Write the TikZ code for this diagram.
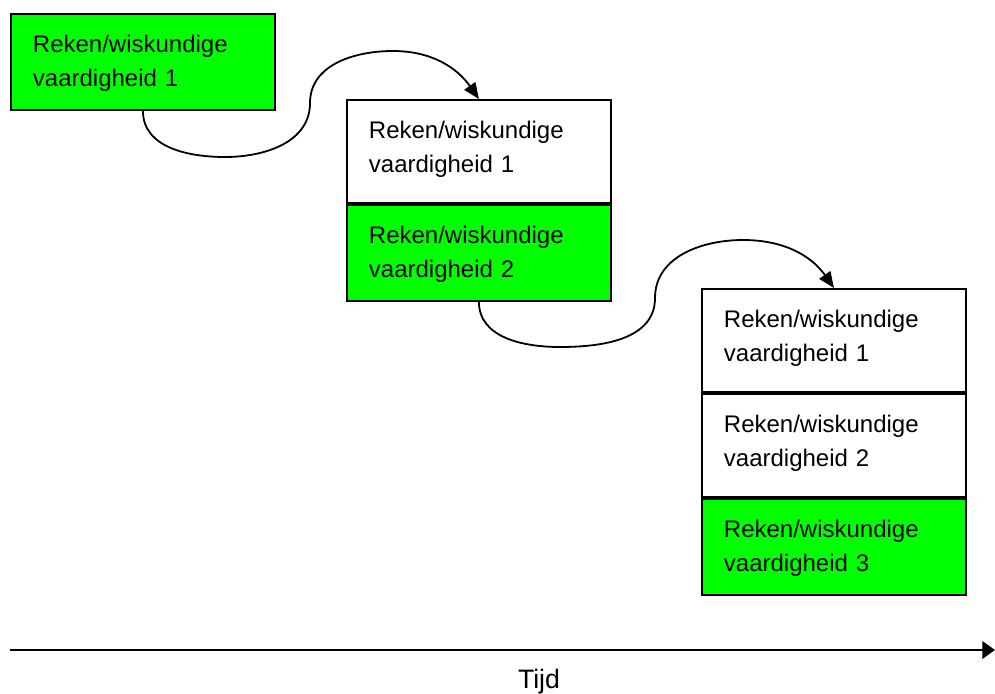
\documentclass[tikz,border=0pt]{standalone}
\usepackage{fontspec}
\setmainfont{Liberation Sans}
\usetikzlibrary{arrows.meta}
\definecolor{cellgreen}{HTML}{00FF00}
\tikzset{
  cell/.style={draw=black, line width=1.4pt, anchor=north west, inner xsep=16.5pt, inner ysep=0pt,
    text width=165pt, align=left, text height=29.25pt,
    font=\fontsize{18pt}{25.5pt}\selectfont},
  tall/.style={text depth=48pt},
  short/.style={text depth=42.75pt},
  green/.style={fill=cellgreen},
  conn/.style={line width=1.35pt, -{Triangle[length=12pt,width=10pt]}},
  axis/.style={line width=2.1pt, -{Triangle[length=9.5pt,width=13pt]}},
}
\begin{document}
\begin{tikzpicture}[x=0.75pt,y=0.75pt]
\useasboundingbox (0,0) rectangle (995,-693);
% column 1
\node[cell,short,green] (b1) at (10,-13) {Reken/wiskundige\\vaardigheid 1};
% column 2
\node[cell,tall] (b2a) at (346,-99) {Reken/wiskundige\\vaardigheid 1};
\node[cell,short,green] (b2b) at (b2a.south west) {Reken/wiskundige\\vaardigheid 2};
% column 3
\node[cell,tall] (b3a) at (701,-288) {Reken/wiskundige\\vaardigheid 1};
\node[cell,tall] (b3b) at (b3a.south west) {Reken/wiskundige\\vaardigheid 2};
\node[cell,short,green] (b3c) at (b3b.south west) {Reken/wiskundige\\vaardigheid 3};
% curved connectors
\draw[conn] (b1.south) to[out=-90,in=180] (225,-157) to[out=0,in=-90] (310,-103)
  to[out=90,in=180] (393,-51) to[out=0,in=125] (b2a.north);
\draw[conn] (b2b.south) to[out=-90,in=180] (560,-347) to[out=0,in=-90] (655,-298)
  to[out=90,in=180] (743,-240) to[out=0,in=125] (b3a.north);
% time axis
\coordinate (ax0) at (10,-650);
\coordinate (ax1) at (995,-650);
\draw[axis] (ax0) -- (ax1);
\node[anchor=base, inner sep=0pt, font=\fontsize{20pt}{24pt}\selectfont] (tijd) at (539,-688) {Tijd};
\end{tikzpicture}
\end{document}
